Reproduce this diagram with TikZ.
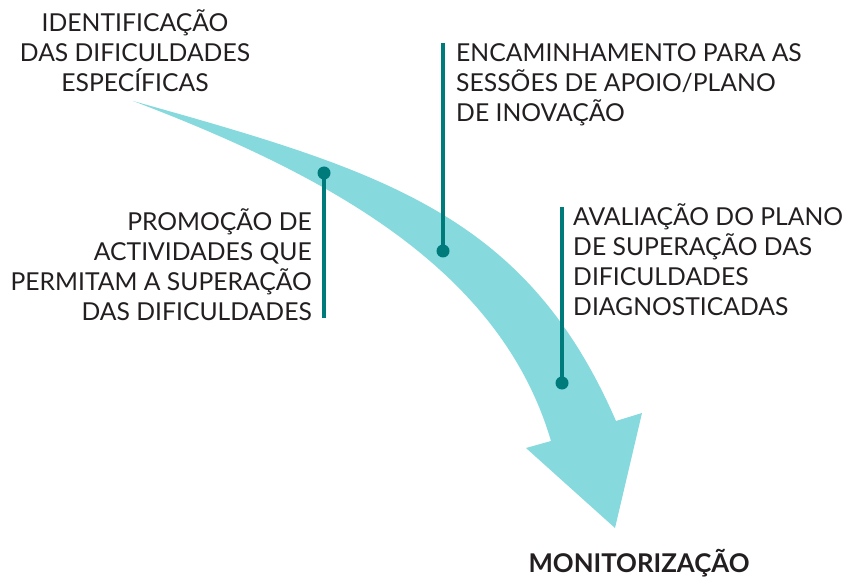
\documentclass[tikz,border=0pt]{standalone}
\usepackage{fontspec}
\setmainfont{Lato}
\usetikzlibrary{positioning}

\definecolor{banda}{HTML}{86D9DC}
\definecolor{petroleo}{HTML}{007B7C}
\definecolor{texto}{HTML}{231F20}

\tikzset{
  etapa/.style={inner sep=0pt, text=texto, font=\fontsize{24.7}{30}\selectfont},
  ponto/.style={circle, fill=petroleo, minimum size=13pt, inner sep=0pt},
  haste/.style={draw=petroleo, line width=4pt}
}

\begin{document}
\begin{tikzpicture}[x=1pt, y=-1pt]

\useasboundingbox (0,0) rectangle (848,577);

% seta curva
\fill[banda] (133,101) .. controls (383,171) and (526,214) .. (616,421)
  -- (642,413) -- (615,528) -- (526,448) -- (551,441)
  .. controls (501,271) and (333,177) .. (133,101) -- cycle;

\node[ponto] (p1) at (324,173) {};
\node[ponto] (p2) at (443,251) {};
\node[ponto] (p3) at (562,383) {};

\coordinate (f1) at (324,318);
\coordinate (f2) at (443,43);
\coordinate (f3) at (562,207);

\draw[haste] (p1.center) -- (f1);
\draw[haste] (p2.center) -- (f2);
\draw[haste] (p3.center) -- (f3);

% base = ultima linha
\node[etapa, align=center, anchor=base] (identificacao) at (135,92)
  {IDENTIFICAÇÃO\\DAS DIFICULDADES\\ESPECÍFICAS};
\node[etapa, align=left, anchor=base west] (encaminhamento) at (456,122)
  {ENCAMINHAMENTO PARA AS\\SESSÕES DE APOIO/PLANO\\DE INOVAÇÃO};
\node[etapa, align=right, anchor=base east] (promocao) at (312,320)
  {PROMOÇÃO DE\\ACTIVIDADES QUE\\PERMITAM A SUPERAÇÃO\\DAS DIFICULDADES};
\node[etapa, align=left, anchor=base west] (avaliacao) at (573,315)
  {AVALIAÇÃO DO PLANO\\DE SUPERAÇÃO DAS\\DIFICULDADES\\DIAGNOSTICADAS};
\node[etapa, font=\fontsize{25.8}{30}\selectfont\bfseries, anchor=base] (monitorizacao) at (639,572)
  {MONITORIZAÇÃO};

\end{tikzpicture}
\end{document}
